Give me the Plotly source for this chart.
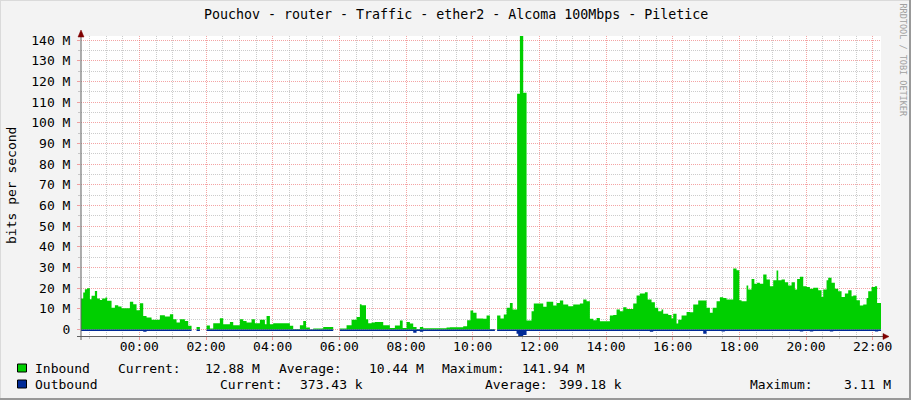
import plotly.graph_objects as go
from datetime import datetime, timedelta

TITLE = "Pouchov - router - Traffic - ether2 - Alcoma 100Mbps - Piletice"
Y_LABEL = "bits per second"
WATERMARK = "RRDTOOL / TOBI OETIKER"
BASE_DAY = datetime(2024, 3, 10)
START = datetime(2024, 3, 10, 22, 15)
END = START + timedelta(hours=24)

# Inbound traffic, Mbit/s (step starts)
in_times = [
    "22:15", "22:19", "22:22", "22:26", "22:31", "22:34", "22:40", "22:44", "22:49", "22:53",
    "22:59", "23:02", "23:10", "23:16", "23:22", "23:28", "23:43", "23:49", "23:55", "00:01",
    "00:07", "00:13", "00:22", "00:37", "00:46", "00:55", "01:01", "01:07", "01:13", "01:22",
    "01:28", "01:34", "01:43", "01:49", "02:01", "02:07", "02:13", "02:25", "02:31", "02:43",
    "02:49", "03:01", "03:07", "03:13", "03:22", "03:28", "03:37", "03:46", "03:49", "03:55",
    "04:01", "04:07", "04:31", "04:37", "04:49", "04:55", "05:00", "05:07", "05:13", "05:31",
    "05:49", "06:01", "06:13", "06:22", "06:31", "06:37", "06:40", "06:48", "06:52", "06:58",
    "07:04", "07:19", "07:31", "07:40", "07:49", "07:54", "08:01", "08:07", "08:13", "08:19",
    "08:25", "08:31", "09:13", "09:19", "09:43", "09:50", "09:56", "10:01", "10:07", "10:19",
    "10:25", "10:31", "10:40", "10:44", "10:50", "10:56", "11:01", "11:07", "11:12", "11:20",
    "11:25", "11:31", "11:37", "11:46", "11:50", "12:07", "12:13", "12:25", "12:31", "12:37",
    "12:43", "12:52", "13:01", "13:13", "13:19", "13:25", "13:31", "13:37", "13:43", "13:49",
    "14:07", "14:13", "14:19", "14:25", "14:31", "14:37", "14:49", "14:55", "15:01", "15:10",
    "15:15", "15:22", "15:28", "15:34", "15:40", "15:43", "15:52", "15:58", "16:01", "16:07",
    "16:10", "16:16", "16:25", "16:31", "16:37", "16:46", "17:01", "17:07", "17:12", "17:19",
    "17:25", "17:31", "17:37", "17:49", "17:55", "18:00", "18:04", "18:13", "18:16", "18:22",
    "18:27", "18:32", "18:37", "18:43", "18:49", "18:55", "19:01", "19:07", "19:10", "19:16",
    "19:22", "19:28", "19:34", "19:40", "19:44", "19:49", "19:55", "20:01", "20:07", "20:13",
    "20:22", "20:28", "20:31", "20:37", "20:40", "20:46", "20:52", "20:58", "21:04", "21:10",
    "21:16", "21:22", "21:25", "21:31", "21:37", "21:43", "21:49", "21:52", "21:58", "22:04",
    "22:08", "22:15",
]
in_vals = [
    15, 17.9, 19.5, 20, 14.7, 16.3, 18.7, 15, 14.3, 15,
    15.5, 13.9, 10.6, 11.8, 11.1, 10.3, 13.4, 12.3, 9.4, 12.7,
    6.6, 5.8, 4.7, 6.9, 6.3, 7.4, 5.0, 3.4, 5.0, 4.2,
    1.8, 0, 1.3, 0, 2.0, 0.5, 3.0, 5.5, 2.6, 3.7,
    2.1, 5.0, 4.2, 3.4, 5.0, 3.1, 4.7, 2.6, 6.6, 2.6,
    3.1, 3.1, 1.8, 0.3, 2.1, 4.2, 1.0, 0.1, 0.5, 1.3,
    0, 0.5, 2.1, 4.7, 6.1, 12.2, 11.8, 5.0, 3.1, 3.4,
    3.7, 2.1, 0.8, 2.0, 4.4, 0.8, 3.7, 2.9, 1.3, 0.3,
    1.3, 0.6, 1.0, 1.1, 1.6, 4.5, 9.2, 8.1, 5.3, 5.2,
    6.8, 0.3, 0, 6.8, 5.3, 7.3, 10.5, 12.9, 9.7, 114,
    141.94, 114.5, 4.4, 8.9, 12.6, 11.0, 13.4, 11.6, 12.9, 14.0,
    12.1, 11.3, 12.1, 12.6, 14.5, 13.7, 5.2, 4.5, 5.6, 4.0,
    6.8, 7.1, 9.7, 8.9, 10.8, 10.0, 12.6, 16.5, 17.4, 18.0,
    14.5, 13.2, 10.5, 8.9, 9.7, 7.7, 7.1, 5.3, 7.7, 2.9,
    4.8, 6.8, 8.5, 8.4, 12.1, 14.0, 10.5, 8.1, 10.5, 13.7,
    15.6, 15.3, 14.5, 29.5, 28.7, 14.2, 13.7, 21.3, 19.4, 24.5,
    22.1, 22.6, 22.1, 26.6, 24.2, 21.0, 23.9, 28.5, 23.9, 24.2,
    22.9, 21.3, 22.9, 19.4, 24.5, 25.5, 21.0, 20.6, 19.7, 20.2,
    19.0, 15.8, 19.4, 23.9, 25.0, 22.6, 19.7, 18.5, 15.8, 17.4,
    19.0, 16.1, 16.5, 14.2, 11.6, 12.1, 15.3, 18.5, 20.6, 20.9,
    12.9, 12.9,
]

# Outbound traffic, Mbit/s (drawn below zero)
out_times = [
    "22:15", "00:07", "00:13", "01:34", "01:43", "01:49", "02:01", "05:49", "06:01", "08:13",
    "08:19", "08:25", "08:31", "10:40", "10:44", "11:19", "11:22", "11:31", "11:37", "15:19",
    "15:25", "16:55", "17:01", "17:28", "17:34", "19:49", "19:55", "20:07", "20:13", "20:43",
    "20:49", "22:04", "22:10", "22:15",
]
out_vals = [
    0.7, 1.0, 0.7, 0, 0.7, 0, 0.7, 0, 0.7, 1.5,
    0.7, 1.1, 0.7, 0, 0.7, 2.0, 3.11, 2.6, 0.7, 1.0,
    0.7, 2.0, 0.7, 0.9, 0.7, 0.9, 0.7, 0.9, 0.7, 0.9,
    0.7, 0.9, 0.7, 0.7,
]

y_tick_vals = [0, 10, 20, 30, 40, 50, 60, 70, 80, 90, 100, 110, 120, 130, 140]
y_tick_text = ["0", "10 M", "20 M", "30 M", "40 M", "50 M", "60 M", "70 M", "80 M",
               "90 M", "100 M", "110 M", "120 M", "130 M", "140 M"]
y_minor_vals = [5, 15, 25, 35, 45, 55, 65, 75, 85, 95, 105, 115, 125, 135]
Y_MIN, Y_MAX = -3.11, 141.94

legend_rows = [
    ("Inbound", "#00CF00", [("Current:", 116.7), ("12.88 M", 204), ("Average:", 278.3),
                            ("10.44 M", 367.7), ("Maximum:", 441), ("141.94 M", 520.7)]),
    ("Outbound", "#002A97", [("Current:", 219.3), ("373.43 k", 299), ("Average:", 484.3),
                             ("399.18 k", 558), ("Maximum:", 749), ("3.11 M", 843.3)]),
]

MONO = "DejaVu Sans Mono"
L, R, T, B = 81, 881, 36, 336


def to_dt(times):
    res, day, prev = [], 0, None
    for t in times:
        h, m = map(int, t.split(":"))
        mins = h * 60 + m
        if prev is not None and mins < prev:
            day += 1
        prev = mins
        res.append(BASE_DAY + timedelta(days=day, minutes=mins))
    return res


def px(x):
    return (x - L) / (R - L)


def py(y):
    return (B - y) / (B - T)


fig = go.Figure()
fig.add_trace(go.Scatter(
    x=to_dt(in_times), y=in_vals, mode="lines", line=dict(shape="hv", width=0, color="#00CF00"),
    fill="tozeroy", fillcolor="#00CF00", hoverinfo="skip"))
fig.add_trace(go.Scatter(
    x=to_dt(out_times), y=[-v for v in out_vals], mode="lines",
    line=dict(shape="hv", width=0, color="#002A97"),
    fill="tozeroy", fillcolor="#002A97", hoverinfo="skip"))

grid_red = "rgba(235,90,90,0.55)"
grid_gray = "rgba(170,170,170,0.6)"

fig.update_layout(
    template="none",
    width=911, height=400, showlegend=False,
    margin=dict(l=L, r=911 - R, t=T, b=400 - B, pad=0, autoexpand=False),
    paper_bgcolor="#F3F3F3", plot_bgcolor="#FFFFFF",
    font=dict(family=MONO, size=13, color="#000000"),
    xaxis=dict(
        type="date", range=[START, END], tickformat="%H:%M", dtick=7200000,
        tick0="2024-03-11 00:00", showgrid=True, gridcolor=grid_red, griddash="1px,1px",
        gridwidth=1, ticks="outside", ticklen=3, tickcolor=grid_red, zeroline=False,
        showline=False, tickfont=dict(family=MONO, size=13, color="#000"),
        ticklabelstandoff=-5, automargin=False,
        minor=dict(dtick=1800000, tick0="2024-03-11 00:00", showgrid=True, gridcolor=grid_gray,
                   griddash="1px,1px", ticks="outside", ticklen=2, tickcolor=grid_gray),
    ),
    yaxis=dict(
        range=[Y_MIN, Y_MAX], tickmode="array", tickvals=y_tick_vals, ticktext=y_tick_text,
        showgrid=True, gridcolor=grid_red, griddash="1px,1px", zeroline=False, showline=False,
        ticks="outside", ticklen=3, tickcolor=grid_red, ticklabelstandoff=4, automargin=False,
        tickfont=dict(family=MONO, size=13, color="#000"),
        minor=dict(tickmode="array", tickvals=y_minor_vals, showgrid=True, gridcolor=grid_gray,
                   griddash="1px,1px", ticks="outside", ticklen=2, tickcolor=grid_gray),
    ),
)

shapes = []
axis_col = "#606060"
arrow_col = "#7F0000"
# axes
shapes.append(dict(type="line", xref="paper", yref="paper", x0=px(L), x1=px(L),
                   y0=py(340), y1=py(33), line=dict(color=axis_col, width=1)))
shapes.append(dict(type="line", xref="paper", yref="paper", x0=px(77), x1=px(884),
                   y0=py(336.5), y1=py(336.5), line=dict(color=axis_col, width=1)))
# arrows
shapes.append(dict(type="path", xref="paper", yref="paper",
                   path=f"M {px(78)} {py(37)} L {px(84)} {py(37)} L {px(81)} {py(30)} Z",
                   fillcolor=arrow_col, line=dict(color=arrow_col, width=0.5)))
shapes.append(dict(type="path", xref="paper", yref="paper",
                   path=f"M {px(883)} {py(333.5)} L {px(883)} {py(339.5)} L {px(889)} {py(336.5)} Z",
                   fillcolor=arrow_col, line=dict(color=arrow_col, width=0.5)))
# frame shading
shapes.append(dict(type="line", xref="paper", yref="paper", x0=px(0), x1=px(911),
                   y0=py(0.5), y1=py(0.5), line=dict(color="#DADADA", width=1)))
shapes.append(dict(type="line", xref="paper", yref="paper", x0=px(0.5), x1=px(0.5),
                   y0=py(0), y1=py(400), line=dict(color="#DADADA", width=1)))
shapes.append(dict(type="line", xref="paper", yref="paper", x0=px(910), x1=px(910),
                   y0=py(0), y1=py(400), line=dict(color="#999999", width=2)))
shapes.append(dict(type="line", xref="paper", yref="paper", x0=px(0), x1=px(911),
                   y0=py(399), y1=py(399), line=dict(color="#999999", width=2)))

annotations = []


def ann(text, x, y, xanchor="left", size=13, color="#000", angle=0):
    annotations.append(dict(text=text, xref="paper", yref="paper", x=px(x), y=py(y),
                            xanchor=xanchor, yanchor="middle", showarrow=False,
                            textangle=angle, font=dict(family=MONO, size=size, color=color)))


ann(TITLE, 455.5, 14, xanchor="center", size=13.3)
ann(Y_LABEL, 11, 186, xanchor="center", angle=-90)
ann(WATERMARK, 902.5, 60, xanchor="center", size=8.5, color="#A0A0A0", angle=90)

for i, (name, color, items) in enumerate(legend_rows):
    yc = 368 + 16 * i
    shapes.append(dict(type="rect", xref="paper", yref="paper", x0=px(17.5), x1=px(26.5),
                       y0=py(yc - 4), y1=py(yc + 4), fillcolor=color,
                       line=dict(color="#000", width=1)))
    ann(name, 33.3, yc)
    for text, x in items:
        ann(text, x - 1, yc)

fig.update_layout(shapes=shapes, annotations=annotations)
fig.write_html("out.html", config={"displayModeBar": False},
               post_script="document.body.style.margin='0';document.body.style.overflow='hidden';")
